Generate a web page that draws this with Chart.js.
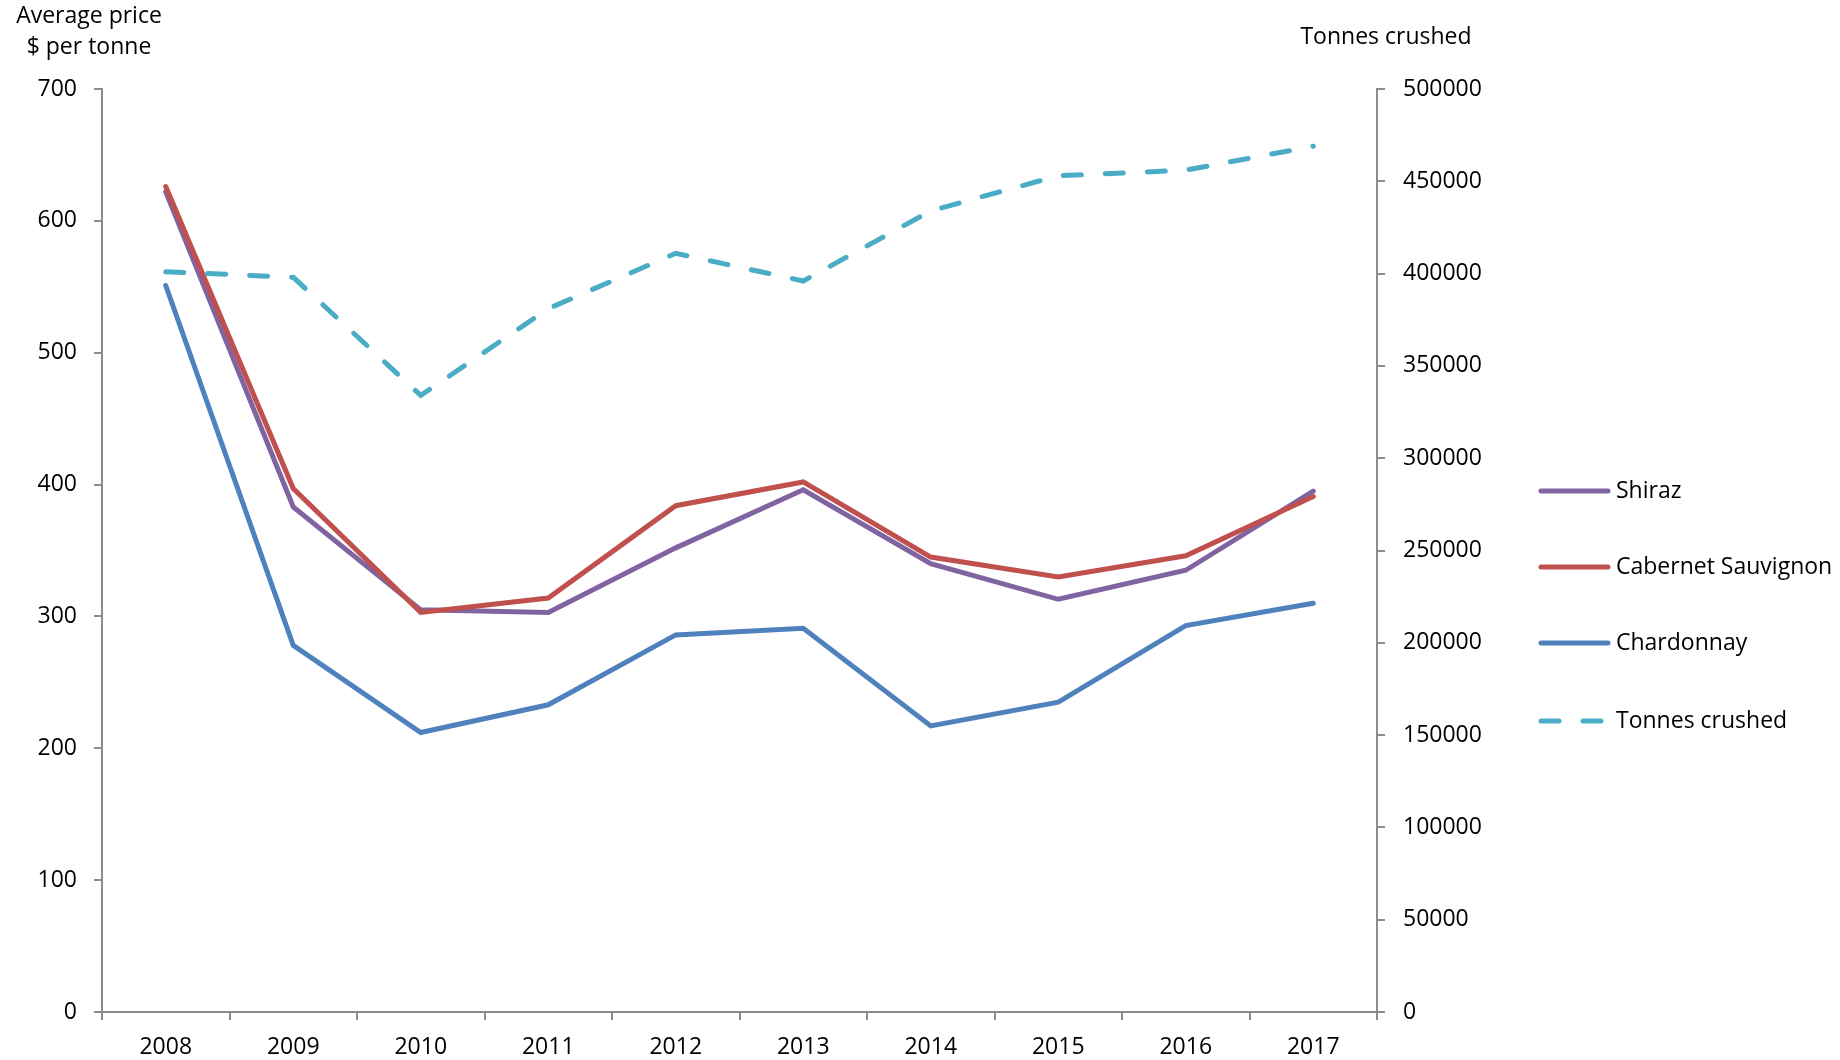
<!DOCTYPE html>
<html>
<head>
<meta charset="utf-8">
<script src="https://cdn.jsdelivr.net/npm/chart.js@4/dist/chart.umd.min.js"></script>
<style>
  html, body { margin: 0; padding: 0; background: #fff; }
  #wrap { width: 1840px; height: 1060px; }
</style>
</head>
<body>
<div id="wrap"><canvas id="chart" width="1840" height="1060"></canvas></div>
<script>
// valores
const years = ['2008', '2009', '2010', '2011', '2012', '2013', '2014', '2015', '2016', '2017'];
const shiraz = [622, 383, 305, 303, 352, 396, 340, 313, 335, 395];
const cabernet = [626, 397, 303, 314, 384, 402, 345, 330, 346, 391];
const chardonnay = [551, 278, 212, 233, 286, 291, 217, 235, 293, 310];
const tonnesCrushed = [401000, 398000, 334000, 381000, 411000, 396000, 434000, 453000, 456000, 469000];

const FONT = '"Open Sans", "Noto Sans", sans-serif';
const AXIS = '#8c8c8c';

// titulos dos eixos (horizontais, no topo)
const axisTitles = {
    id: 'axisTitles',
    afterDraw(chart) {
        const ctx = chart.ctx;
        ctx.save();
        ctx.fillStyle = '#000';
        ctx.font = '23px ' + FONT;
        ctx.textAlign = 'center';
        ctx.textBaseline = 'middle';
        ctx.fillText('Average price', 89, 16);
        ctx.fillText('$ per tonne', 89, 47);
        ctx.fillText('Tonnes crushed', 1386, 37);
        ctx.restore();
    }
};

// legenda lateral
const sideLegend = {
    id: 'sideLegend',
    afterDraw(chart) {
        const ctx = chart.ctx;
        const rows = [491, 567, 643, 721];
        ctx.save();
        ctx.font = '23px ' + FONT;
        ctx.textBaseline = 'middle';
        ctx.textAlign = 'left';
        chart.data.datasets.forEach((ds, i) => {
            const y = rows[i];
            ctx.strokeStyle = ds.borderColor;
            ctx.lineWidth = ds.borderWidth;
            ctx.lineCap = 'round';
            ctx.setLineDash(ds.borderDash || []);
            ctx.beginPath();
            ctx.moveTo(1541, y);
            ctx.lineTo(1608, y);
            ctx.stroke();
            ctx.setLineDash([]);
            ctx.fillStyle = '#000';
            ctx.fillText(ds.label, 1616, y);
        });
        ctx.restore();
    }
};

const ctx = document.getElementById('chart').getContext('2d');

new Chart(ctx, {
    type: 'line',
    data: {
        labels: years,
        datasets: [
            { label: 'Shiraz', data: shiraz, borderColor: '#8064A2', yAxisID: 'y', order: 2 },
            { label: 'Cabernet Sauvignon', data: cabernet, borderColor: '#C0504D', yAxisID: 'y', order: 1 },
            { label: 'Chardonnay', data: chardonnay, borderColor: '#4F81BD', yAxisID: 'y', order: 3 },
            { label: 'Tonnes crushed', data: tonnesCrushed, borderColor: '#4BACC6', borderDash: [18, 24], yAxisID: 'y2', order: 0 }
        ].map(ds => Object.assign({
            borderWidth: 5,
            pointRadius: 0,
            tension: 0,
            fill: false,
            borderCapStyle: 'round',
            borderJoinStyle: 'miter'
        }, ds))
    },
    options: {
        responsive: false,
        animation: false,
        layout: { padding: { top: 89, right: 343, bottom: 0, left: 0 } },
        plugins: {
            legend: { display: false },
            tooltip: { enabled: false }
        },
        scales: {
            x: {
                offset: true,
                grid: { display: true, drawOnChartArea: false, drawTicks: true, tickLength: 8, offset: true, color: AXIS, lineWidth: 2 },
                border: { display: true, color: AXIS, width: 2 },
                ticks: { color: '#000', font: { family: FONT, size: 23 }, padding: 14, maxRotation: 0 },
                afterFit: s => { s.height = 48; }
            },
            y: {
                position: 'left',
                min: 0,
                max: 700,
                ticks: { stepSize: 100, color: '#000', font: { family: FONT, size: 23 }, padding: 17 },
                grid: { display: true, drawOnChartArea: false, drawTicks: true, tickLength: 8, color: AXIS, lineWidth: 2 },
                border: { display: true, color: AXIS, width: 2 },
                afterFit: s => { s.width = 102; }
            },
            y2: {
                position: 'right',
                min: 0,
                max: 500000,
                ticks: {
                    stepSize: 50000,
                    color: '#000',
                    font: { family: FONT, size: 23 },
                    padding: 18,
                    callback: v => String(v)
                },
                grid: { display: true, drawOnChartArea: false, drawTicks: true, tickLength: 8, color: AXIS, lineWidth: 2 },
                border: { display: true, color: AXIS, width: 2 },
                afterFit: s => { s.width = 120; }
            }
        }
    },
    plugins: [axisTitles, sideLegend]
});
</script>
</body>
</html>
